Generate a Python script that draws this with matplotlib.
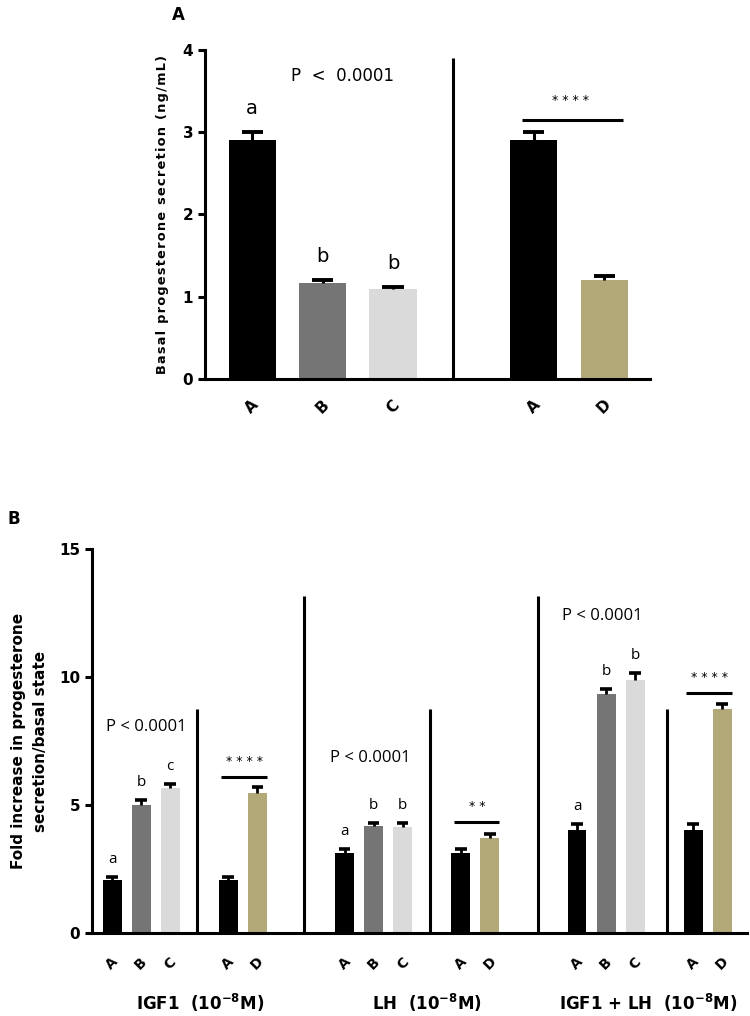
import matplotlib
matplotlib.use("Agg")
import matplotlib.pyplot as plt
import numpy as np

# ---------------- data ----------------
# Panel A: basal progesterone secretion (ng/mL)
a_groups = ["A", "B", "C", "A", "D"]
a_values = [2.90, 1.17, 1.09, 2.90, 1.20]
a_errors = [0.10, 0.03, 0.03, 0.10, 0.05]
a_letters = ["a", "b", "b"]
a_pvalue = "P  <  0.0001"
a_pairwise = "* * * *"

# Panel B: fold increase over basal state
b_treatments = ["IGF1  (10$^{\\mathbf{-8}}$M)", "LH  (10$^{\\mathbf{-8}}$M)",
                "IGF1 + LH  (10$^{\\mathbf{-8}}$M)"]
b_groups = ["A", "B", "C", "A", "D"]
b_values_igf1 = [2.07, 5.00, 5.66, 2.07, 5.47]
b_errors_igf1 = [0.12, 0.20, 0.16, 0.12, 0.23]
b_values_lh = [3.12, 4.18, 4.14, 3.12, 3.71]
b_errors_lh = [0.16, 0.12, 0.16, 0.16, 0.16]
b_values_igf1lh = [4.02, 9.34, 9.88, 4.02, 8.75]
b_errors_igf1lh = [0.24, 0.19, 0.28, 0.24, 0.20]
b_letters_igf1 = ["a", "b", "c"]
b_letters_lh = ["a", "b", "b"]
b_letters_igf1lh = ["a", "b", "b"]
b_pairwise = ["* * * *", "* *", "* * * *"]
b_pvalue = "P < 0.0001"

bar_colors = ["#000000", "#757575", "#dadada", "#000000", "#b3a877"]

# ---------------- figure ----------------
plt.rcParams['font.family'] = ['DejaVu Sans']
fig = plt.figure(figsize=(7.5, 10.16), dpi=100)

SPINE_LW = 2.2


def spaced(s):
    return "\u200a".join(s)


def style_axes(ax):
    for s in ["top", "right"]:
        ax.spines[s].set_visible(False)
    for s in ["left", "bottom"]:
        ax.spines[s].set_linewidth(SPINE_LW)
    ax.tick_params(axis="y", length=5, width=SPINE_LW, direction="out")
    ax.tick_params(axis="x", length=0)


def upper_errorbars(ax, xs, vals, errs, cap_half, lw):
    xs = np.asarray(xs, dtype=float)
    tops = np.asarray(vals) + np.asarray(errs)
    ax.vlines(xs, vals, tops, color="black", lw=lw, zorder=3)
    ax.hlines(tops, xs - cap_half, xs + cap_half, color="black", lw=lw + 0.6,
              zorder=3)


# ---------- Panel A ----------
axA = fig.add_axes([0.2733, 0.627, 0.5934, 0.3238])
style_axes(axA)
xa = np.array([0, 1, 2, 4, 5], dtype=float)
axA.bar(xa, a_values, width=0.67, color=bar_colors, zorder=2)
upper_errorbars(axA, xa, a_values, a_errors, 0.15, 2.2)
axA.set_xlim(-0.67, 5.65)
axA.set_ylim(0, 4)
axA.set_yticks([0, 1, 2, 3, 4])
axA.set_yticklabels(["0", "1", "2", "3", "4"], fontsize=11, fontweight="bold")
axA.set_xticks(xa)
axA.set_xticklabels(a_groups, rotation=45, ha="center", va="center",
                    fontsize=11, fontweight="bold")
axA.tick_params(axis="x", pad=20)
axA.set_ylabel(spaced("Basal progesterone secretion (ng/mL)"), fontsize=9.3,
               fontweight="bold", labelpad=10)
axA.vlines(2.85, 0, 3.9, color="black", lw=SPINE_LW, zorder=3)
for i, lt in enumerate(a_letters):
    axA.text(xa[i], a_values[i] + a_errors[i] + 0.29, lt, ha="center",
             va="center", fontsize=14)
axA.text(1.29, 3.68, a_pvalue, ha="center", va="center", fontsize=12)
axA.hlines(3.15, 3.83, 5.26, color="black", lw=SPINE_LW)
axA.text(4.52, 3.39, a_pairwise, ha="center", va="center", fontsize=9)
fig.text(178 / 750, 1 - 15 / 1016, "A", fontsize=12, fontweight="bold",
         ha="center", va="center")

# ---------- Panel B ----------
axB = fig.add_axes([0.1227, 0.0817, 0.8733, 0.378])
style_axes(axB)
base = np.array([0, 1, 2, 4, 5], dtype=float)
offsets = [0, 8, 16]
b_values = [b_values_igf1, b_values_lh, b_values_igf1lh]
b_errors = [b_errors_igf1, b_errors_lh, b_errors_igf1lh]
b_letters = [b_letters_igf1, b_letters_lh, b_letters_igf1lh]
b_pval_pos = [(1.17, 8.05), (8.9, 6.84), (16.87, 12.4)]
b_sig_y = [6.1, 4.33, 9.38]
b_small_div = [2.93, 10.93, 19.1]
b_big_div = [6.59, 14.66]
b_label_x = [200 / 750, 427 / 750, 648 / 750]

all_x = []
all_lab = []
for g in range(3):
    xs = base + offsets[g]
    vals = b_values[g]
    errs = b_errors[g]
    axB.bar(xs, vals, width=0.65, color=bar_colors, zorder=2)
    upper_errorbars(axB, xs, vals, errs, 0.2, 2.0)
    for i, lt in enumerate(b_letters[g]):
        axB.text(xs[i], vals[i] + errs[i] + 0.68, lt, ha="center", va="center",
                 fontsize=11, family="Open Sans")
    px, py = b_pval_pos[g]
    axB.text(px, py, b_pvalue, ha="center", va="center", fontsize=12,
             family="Open Sans")
    axB.hlines(b_sig_y[g], xs[3] - 0.24, xs[4] + 0.33, color="black", lw=SPINE_LW)
    axB.text((xs[3] + xs[4]) / 2 + 0.05, b_sig_y[g] + 0.6, b_pairwise[g],
             ha="center", va="center", fontsize=9)
    axB.vlines(b_small_div[g], 0, 8.75, color="black", lw=SPINE_LW, zorder=3)
    all_x.extend(xs)
    all_lab.extend(b_groups)
    fig.text(b_label_x[g], 1 - 1003 / 1016, b_treatments[g], fontsize=12,
             fontweight="bold", ha="center", va="center")
for xd in b_big_div:
    axB.vlines(xd, 0, 13.15, color="black", lw=SPINE_LW, zorder=3)

axB.set_xlim(-0.69, 21.85)
axB.set_ylim(0, 15)
axB.set_yticks([0, 5, 10, 15])
axB.set_yticklabels(["0", "5", "10", "15"], fontsize=11, fontweight="bold")
axB.set_xticks(all_x)
axB.set_xticklabels(all_lab, rotation=45, ha="center", va="center",
                    fontsize=10, fontweight="bold")
axB.tick_params(axis="x", pad=22)
axB.set_ylabel("Fold increase in progesterone\nsecretion/basal state",
               fontsize=11, fontweight="bold", labelpad=8, linespacing=1.6)
fig.text(14 / 750, 1 - 519 / 1016, "B", fontsize=12, fontweight="bold",
         ha="center", va="center")

fig.savefig("out.png", dpi=100)
